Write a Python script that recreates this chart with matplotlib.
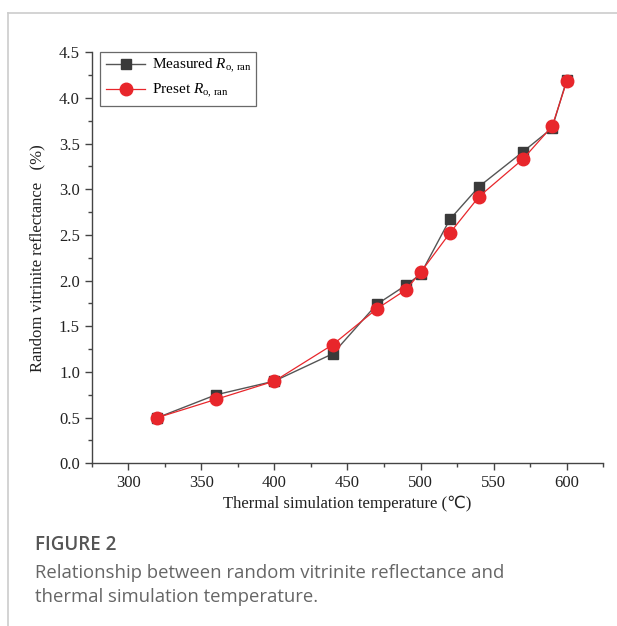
import numpy as np
import matplotlib
matplotlib.use("Agg")
import matplotlib.pyplot as plt
from matplotlib.ticker import MultipleLocator
from matplotlib.lines import Line2D

# Data
temp = [320, 360, 400, 440, 470, 490, 500, 520, 540, 570, 590, 600]
measured = [0.50, 0.75, 0.90, 1.20, 1.74, 1.95, 2.07, 2.67, 3.03, 3.41, 3.67, 4.20]
preset = [0.50, 0.70, 0.90, 1.30, 1.69, 1.90, 2.09, 2.52, 2.92, 3.33, 3.69, 4.18]

plt.rcParams['font.family'] = ['Liberation Serif', 'DejaVu Sans']
plt.rcParams['mathtext.fontset'] = 'custom'
plt.rcParams['mathtext.rm'] = 'Liberation Serif'
plt.rcParams['mathtext.it'] = 'Liberation Serif:italic'

fig = plt.figure(figsize=(6.17, 6.26), dpi=100)
ax = fig.add_axes([0.1486, 0.2599, 0.8292, 0.6566])

ax.plot(temp, measured, color='#555555', lw=1.0, marker='s', ms=7,
        mfc='#3a3a3a', mec='#3a3a3a', label=r'Measured $R_{\mathrm{o,\,ran}}$')
ax.plot(temp, preset, color='#e8262b', lw=0.9, marker='o', ms=9,
        mfc='#e8262b', mec='#e8262b', label=r'Preset $R_{\mathrm{o,\,ran}}$')

ax.set_xlim(275, 625)
ax.set_ylim(0, 4.5)
ax.xaxis.set_major_locator(MultipleLocator(50))
ax.xaxis.set_minor_locator(MultipleLocator(25))
ax.yaxis.set_major_locator(MultipleLocator(0.5))
ax.yaxis.set_minor_locator(MultipleLocator(0.25))
ax.yaxis.set_major_formatter(matplotlib.ticker.FormatStrFormatter('%.1f'))

for s in ['top', 'right']:
    ax.spines[s].set_visible(False)
for s in ['left', 'bottom']:
    ax.spines[s].set_color('#444444')
    ax.spines[s].set_linewidth(1.0)
ax.tick_params(which='major', direction='out', length=5, width=1, color='#444444',
               labelsize=12, labelcolor='#222222')
ax.tick_params(which='minor', direction='out', length=3, width=1, color='#444444')

ax.set_xlabel('Thermal simulation temperature (\u2103)', fontsize=12, labelpad=3, color='#222222')
ax.set_ylabel('Random vitrinite reflectance   (%)', fontsize=12, labelpad=10, color='#222222')

leg = ax.legend(loc='upper left', bbox_to_anchor=(0.008, 1.012), fontsize=11,
                frameon=True, fancybox=False, handlelength=2.6, borderpad=0.35,
                labelspacing=0.45, handletextpad=0.4, borderaxespad=0.3)
leg.get_frame().set_edgecolor('#444444')
leg.get_frame().set_linewidth(0.9)

# Figure frame lines
fig.add_artist(Line2D([8 / 617, 1], [1 - 13 / 626, 1 - 13 / 626], color='#cccccc', lw=1.2))
fig.add_artist(Line2D([8 / 617, 8 / 617], [0, 1 - 13 / 626], color='#cccccc', lw=1.2))

fig.text(35 / 617, 1 - 545 / 626, 'FIGURE 2', family='Open Sans', fontweight='semibold',
         fontsize=13.5, color='#555555', va='center', ha='left')
fig.text(35 / 617, 1 - 573 / 626, 'Relationship between random vitrinite reflectance and',
         family='Open Sans', fontsize=13.3, color='#666666', va='center', ha='left')
fig.text(35 / 617, 1 - 597 / 626, 'thermal simulation temperature.',
         family='Open Sans', fontsize=13.3, color='#666666', va='center', ha='left')

fig.savefig('out.png', dpi=100)
